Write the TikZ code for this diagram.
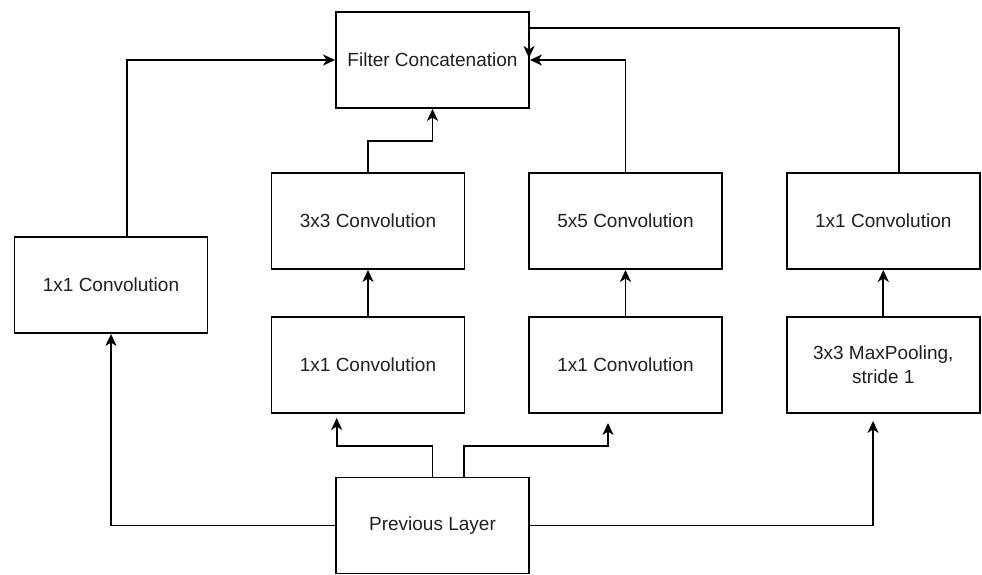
\documentclass[tikz,border=0pt]{standalone}
\usepackage{fontspec}
\setmainfont{Liberation Sans}
\usetikzlibrary{arrows.meta,calc}
\begin{document}
\begin{tikzpicture}[x=1pt,y=-1pt,
  box/.style={draw, line width=1.9pt, minimum width=193pt, minimum height=96pt, inner sep=0pt, align=center, font=\fontsize{19}{24}\selectfont, text=black!88},
  conn/.style={draw, line width=1.9pt, -{Stealth[length=12pt,width=11pt,inset=3.5pt]}}]
\useasboundingbox (0,0) rectangle (982,574);
\node[box] (fc) at (432.5,60) {Filter Concatenation};
\node[box] (lc) at (111,285) {1x1 Convolution};
\node[box] (c3) at (368,221) {3x3 Convolution};
\node[box] (m1) at (368,365) {1x1 Convolution};
\node[box] (c5) at (625.5,221) {5x5 Convolution};
\node[box] (m2) at (625.5,365) {1x1 Convolution};
\node[box] (r1) at (883.3,221) {1x1 Convolution};
\node[box] (mp) at (883.3,365) {3x3 MaxPooling,\\stride 1};
\node[box] (pl) at (432.5,525.5) {Previous Layer};
\coordinate (r1top) at ($(r1.north)+(16,0)$);
\coordinate (fctip) at (529,58);
% previous layer fan-out
\draw[conn] (pl.west) -| (lc.south);
\draw[conn, shorten >=4pt] (pl.north) |- (336.7,445.7) -- ($(m1.south)+(-31.3,0)$);
\draw[conn, shorten >=9pt] ($(pl.north)+(31.5,0)$) |- (608,445.7) -- ($(m2.south)+(-17.5,0)$);
\draw[conn, shorten >=7pt] (pl.east) -| ($(mp.south)+(-10.3,0)$);
% vertical chains
\draw[conn] (m1.north) -- (c3.south);
\draw[conn] (m2.north) -- (c5.south);
\draw[conn] (mp.north) -- (r1.south);
% into filter concatenation
\draw[conn] ($(lc.north)+(16,0)$) |- (fc.west);
\draw[conn] (c3.north) |- (432.5,141) -- (fc.south);
\draw[conn] (c5.north) |- (fc.east);
\draw[conn] (r1top) |- (529,28) -- (fctip);
\end{tikzpicture}
\end{document}
